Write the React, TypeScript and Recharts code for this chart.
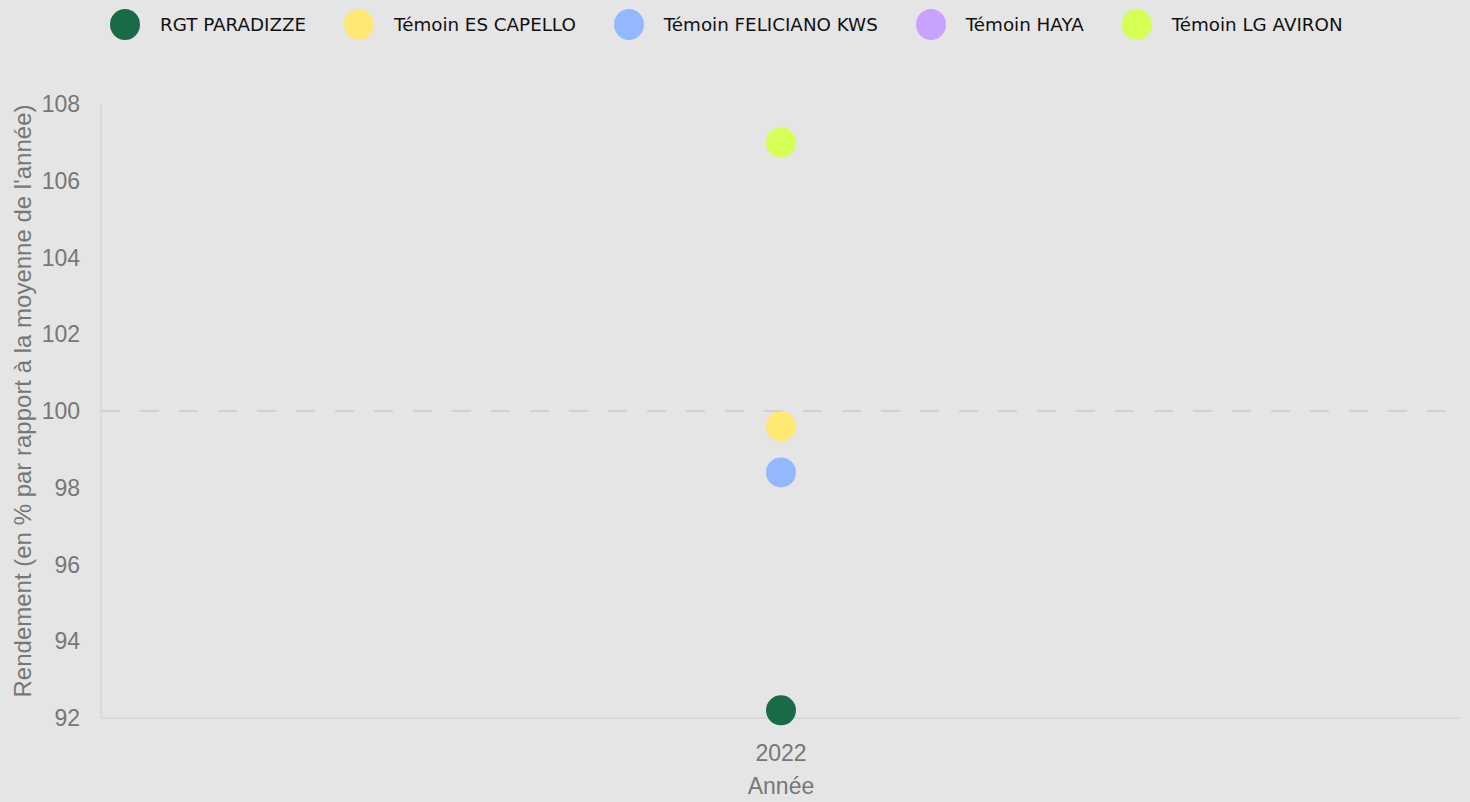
import React from 'react';
import { LineChart, Line, XAxis, YAxis, ReferenceLine } from 'recharts';

const categories = ['2022'];
const seriesNames = ['RGT PARADIZZE', 'Témoin ES CAPELLO', 'Témoin FELICIANO KWS', 'Témoin HAYA', 'Témoin LG AVIRON'];
const seriesColors = ['#196b48', '#ffe873', '#94b8ff', '#c8a2ff', '#d5ff55'];
const paradizze = [92.2];
const capello = [99.6];
const feliciano = [98.4];
const haya: (number | null)[] = [null];
const aviron = [107.0];
const yTicks = [92, 94, 96, 98, 100, 102, 104, 106, 108];

const seriesValues = [paradizze, capello, feliciano, haya, aviron];

const data = categories.map((c, i) => {
  const row: Record<string, string | number | null> = { year: c };
  seriesNames.forEach((n, k) => {
    row[n] = seriesValues[k][i];
  });
  return row;
});

const axisFont = '"Liberation Sans", Arial, sans-serif';

export default function App() {
  return (
    <div style={{ position: 'absolute', left: 0, top: 0, width: 1470, height: 802, background: '#e5e5e5', overflow: 'hidden' }}>
      <div style={{ position: 'absolute', left: 110, top: 7, height: 34, display: 'flex', alignItems: 'center', fontFamily: '"DejaVu Sans", sans-serif', fontSize: 18.3, color: '#111' }}>
        {seriesNames.map((n, k) => (
          <div key={n} style={{ display: 'flex', alignItems: 'center', marginRight: 38 }}>
            <div style={{ width: 30, height: 31, borderRadius: '50%', background: seriesColors[k], marginRight: 20 }} />
            <span>{n}</span>
          </div>
        ))}
      </div>
      <div style={{ position: 'absolute', left: 0, top: 0 }}>
        <LineChart width={1470} height={802} data={data} margin={{ top: 104, right: 9, bottom: 0, left: 0 }}>
          <XAxis
            dataKey="year"
            height={84}
            stroke="#cfcfcf"
            tickLine={false}
            tickSize={0}
            tickMargin={27}
            tick={{ fill: '#777', fontSize: 23, fontFamily: axisFont }}
            label={{ value: 'Année', position: 'insideBottom', offset: 8, fill: '#777', fontSize: 23, fontFamily: axisFont }}
          />
          <YAxis
            width={101}
            domain={[92, 108]}
            ticks={yTicks}
            stroke="#cfcfcf"
            tickLine={false}
            tickSize={0}
            tickMargin={21}
            tick={{ fill: '#777', fontSize: 23, fontFamily: axisFont }}
            label={{
              content: (props: any) => {
                const vb = props.viewBox || { x: 0, y: 0, width: 0, height: 0 };
                const cx = vb.x + 22;
                const cy = vb.y + vb.height / 2 - 10;
                return (
                  <text
                    x={cx}
                    y={cy}
                    transform={`rotate(-90, ${cx}, ${cy})`}
                    textAnchor="middle"
                    dominantBaseline="central"
                    fill="#777"
                    fontSize={24}
                    fontFamily={axisFont}
                  >
                    Rendement (en % par rapport à la moyenne de l'année)
                  </text>
                );
              },
            }}
          />
          <ReferenceLine y={100} stroke="#d0d0d0" strokeWidth={2} strokeDasharray="19 20" />
          {seriesNames.map((n, k) => (
            <Line
              key={n}
              dataKey={n}
              stroke="none"
              strokeWidth={0}
              isAnimationActive={false}
              activeDot={false}
              dot={{ r: 15, fill: seriesColors[k], stroke: 'none' }}
            />
          ))}
        </LineChart>
      </div>
    </div>
  );
}
